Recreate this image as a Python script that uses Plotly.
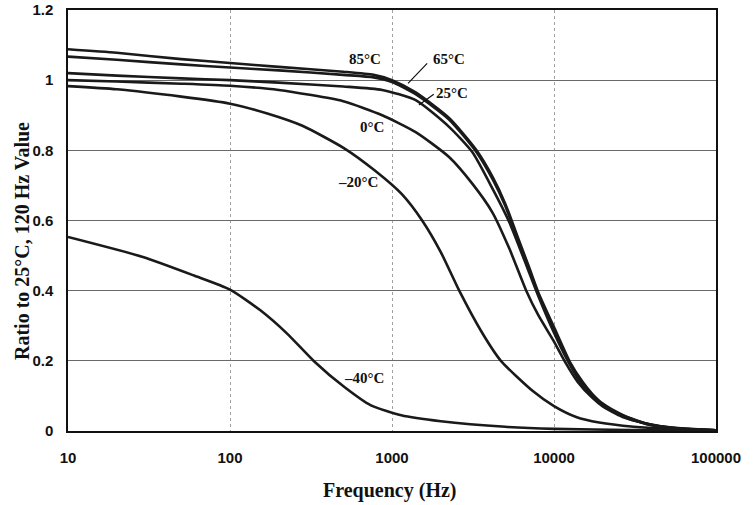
import plotly.graph_objects as go

# ---- data ----
f_85 = [10, 20, 50, 100, 200, 500, 770, 1000, 1400, 2250, 3300, 4200, 5000, 6000, 7000, 8000,
        10000, 12500, 15000, 17200, 20000, 26500, 38600, 62800, 100000]
v_85 = [1.088, 1.078, 1.060, 1.049, 1.038, 1.024, 1.015, 1.0, 0.965, 0.892, 0.802, 0.722, 0.648,
        0.55, 0.468, 0.395, 0.296, 0.198, 0.14, 0.106, 0.078, 0.046, 0.019, 0.006, 0.002]

f_65 = f_85
v_65 = [1.067, 1.058, 1.045, 1.036, 1.028, 1.015, 1.008, 0.995, 0.96, 0.888, 0.797, 0.716, 0.642,
        0.544, 0.462, 0.389, 0.29, 0.193, 0.136, 0.102, 0.075, 0.044, 0.018, 0.006, 0.002]

f_25 = [10, 20, 50, 100, 200, 500, 870, 1400, 2250, 3130, 4180, 5300, 6400, 8000, 10000, 12000,
        15000, 20000, 30000, 50000, 100000]
v_25 = [1.02, 1.013, 1.005, 1.0, 0.993, 0.982, 0.972, 0.943, 0.867, 0.795, 0.69, 0.595, 0.5,
        0.385, 0.28, 0.205, 0.13, 0.072, 0.032, 0.011, 0.002]

f_0 = [10, 20, 50, 100, 200, 500, 870, 1400, 2250, 3130, 4180, 5300, 6740, 8000, 10000, 11700,
       14000, 17200, 20000, 26500, 40000, 60000, 100000]
v_0 = [1.0, 0.996, 0.99, 0.984, 0.972, 0.94, 0.9, 0.852, 0.781, 0.705, 0.622, 0.52, 0.4, 0.33,
       0.255, 0.197, 0.14, 0.095, 0.07, 0.04, 0.017, 0.007, 0.002]

f_m20 = [10, 20, 50, 100, 170, 280, 510, 780, 1150, 1535, 2000, 2600, 3600, 4700, 7400, 10000,
         13700, 19000, 31000, 50000, 100000]
v_m20 = [0.983, 0.974, 0.953, 0.933, 0.905, 0.87, 0.805, 0.743, 0.675, 0.6, 0.51, 0.4, 0.28, 0.2,
         0.114, 0.071, 0.04, 0.024, 0.012, 0.006, 0.002]

f_m40 = [10, 29, 60, 100, 154, 226, 330, 506, 741, 1140, 2000, 5000, 10000, 30000, 100000]
v_m40 = [0.553, 0.496, 0.443, 0.403, 0.344, 0.277, 0.199, 0.126, 0.073, 0.045, 0.028, 0.012,
         0.006, 0.003, 0.001]

series = [
    ("85°C", f_85, v_85),
    ("65°C", f_65, v_65),
    ("25°C", f_25, v_25),
    ("0°C", f_0, v_0),
    ("–20°C", f_m20, v_m20),
    ("–40°C", f_m40, v_m40),
]

x_ticks = [10, 100, 1000, 10000, 100000]
x_ticktext = ["10", "100", "1000", "10000", "100000"]
y_ticks = [0, 0.2, 0.4, 0.6, 0.8, 1.0, 1.2]

# label positions (log10 of frequency, value)
labels = [
    ("85°C", 2.835, 1.06),
    ("65°C", 3.354, 1.06),
    ("25°C", 3.373, 0.963),
    ("0°C", 2.876, 0.866),
    ("–20°C", 2.789, 0.71),
    ("–40°C", 2.826, 0.151),
]
# leader lines: (tail log x, tail y, head log x, head y)
leaders = [
    (3.226, 1.052, 3.099, 0.991),
    (3.267, 0.963, 3.166, 0.929),
]

fig = go.Figure()
for name, fx, fy in series:
    fig.add_trace(go.Scatter(
        x=fx, y=fy, mode="lines", name=name,
        line=dict(color="#1a1a1a", width=2.6, shape="spline", smoothing=0.6),
        showlegend=False, hoverinfo="skip"))

serif = "Liberation Serif, Times New Roman, serif"
sans = "Liberation Sans, Arial, sans-serif"

annotations = []
for txt, lx, ly in labels:
    annotations.append(dict(
        x=lx, y=ly, xref="x", yref="y", text=f"<b>{txt}</b>", showarrow=False,
        xanchor="center", yanchor="middle",
        font=dict(family=serif, size=15, color="#111")))
for tx, ty, hx, hy in leaders:
    annotations.append(dict(
        x=hx, y=hy, xref="x", yref="y", ax=tx, ay=ty, axref="x", ayref="y",
        text="", showarrow=True, arrowhead=0, arrowwidth=1.2, arrowcolor="#111",
        standoff=0, startstandoff=0))
annotations.append(dict(
    x=(22 - 68) / 648, y=(431 - 241) / 421, xref="paper", yref="paper",
    xanchor="center", yanchor="middle",
    text="<b>Ratio to 25°C, 120 Hz Value</b>", textangle=-90, showarrow=False,
    font=dict(family=serif, size=20, color="#111")))
annotations.append(dict(
    x=0.497, y=(431 - 490) / 421, xref="paper", yref="paper",
    xanchor="center", yanchor="middle",
    text="<b>Frequency (Hz)</b>", showarrow=False,
    font=dict(family=serif, size=20, color="#111")))

fig.update_layout(
    width=756, height=505,
    margin=dict(l=68, r=40, t=10, b=74, autoexpand=False),
    paper_bgcolor="white", plot_bgcolor="white",
    annotations=annotations,
    xaxis=dict(
        type="log", range=[1, 5], tickvals=x_ticks, ticktext=x_ticktext,
        showgrid=True, gridcolor="#a0a0a0", gridwidth=1, griddash="dot",
        showline=True, linecolor="#111", linewidth=1.5, mirror=True,
        ticks="", ticklabelstandoff=12, automargin=False,
        tickfont=dict(family=sans, size=15, color="#111", weight="bold"),
        zeroline=False),
    yaxis=dict(
        range=[0, 1.2], tickvals=y_ticks,
        showgrid=True, gridcolor="#6a6a6a", gridwidth=1,
        showline=True, linecolor="#111", linewidth=1.5, mirror=True,
        ticks="", ticklabelstandoff=10, automargin=False,
        tickfont=dict(family=sans, size=15, color="#111", weight="bold"),
        zeroline=False),
)

fig.write_html("out.html", config={"displayModeBar": False},
               post_script="document.body.style.margin='0';document.body.style.padding='0';")
